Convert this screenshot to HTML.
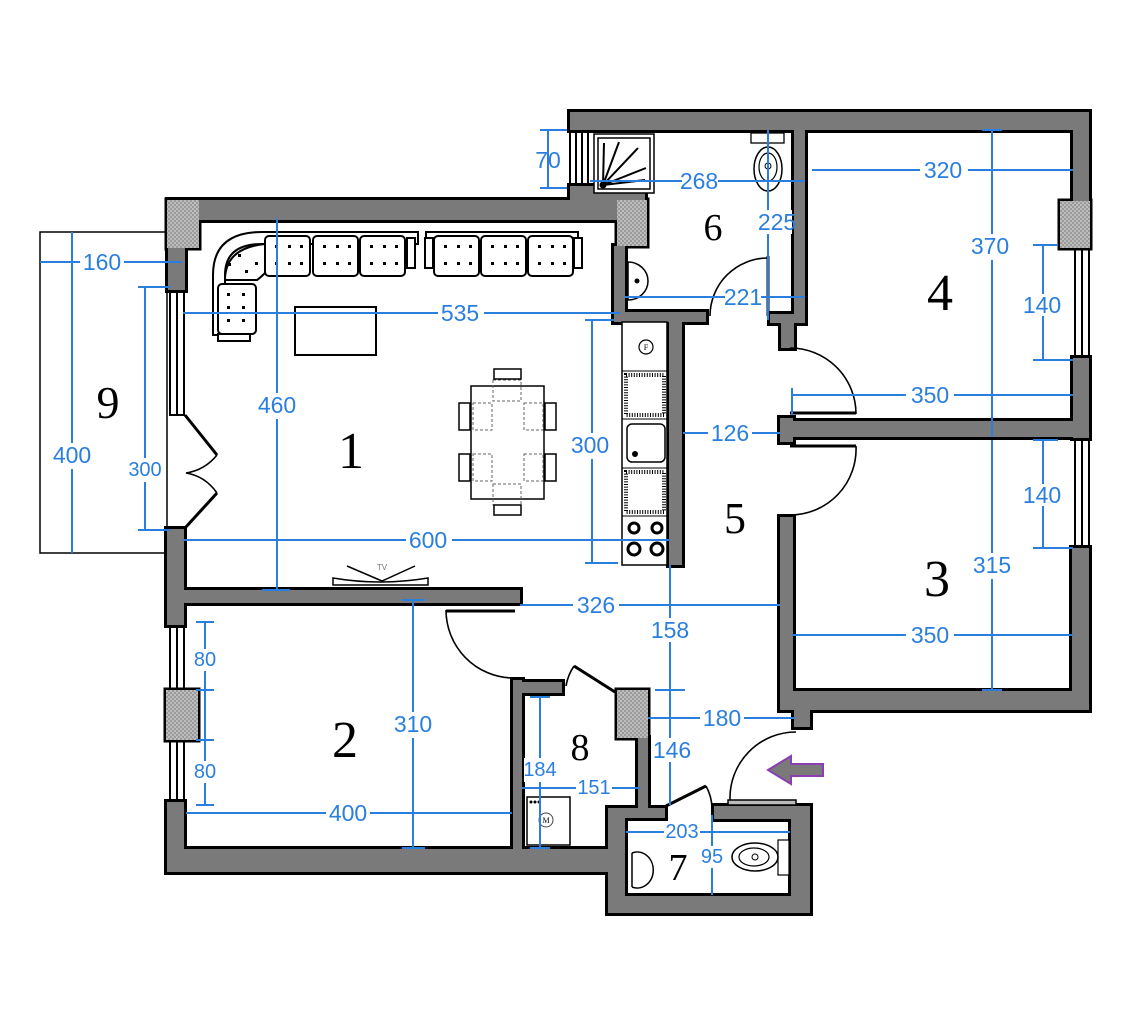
<!DOCTYPE html>
<html><head><meta charset="utf-8"><style>
html,body{margin:0;padding:0;background:#fff}
svg{display:block}
.w{fill:#7a7a7a;stroke:#000;stroke-width:6}
.t{fill:url(#tex);stroke:#000;stroke-width:5}
.nf .w,.nf .t{stroke:none}
.win{fill:#fff;stroke:#000;stroke-width:2}
.d{stroke:#2a7fde;stroke-width:2;fill:none}
.dt{font-family:"Liberation Sans Narrow","Liberation Sans",sans-serif;font-size:23px;fill:#2a7fde;text-anchor:middle;dominant-baseline:central}
.rl{font-family:"Liberation Serif",serif;fill:#000;text-anchor:middle}
.f{fill:#fff;stroke:#000;stroke-width:2}
.a{fill:none;stroke:#000;stroke-width:1.6}
</style></head><body>
<svg id="s" width="1129" height="1014" viewBox="0 0 1129 1014" xmlns="http://www.w3.org/2000/svg">
<defs>
<pattern id="tex" width="4" height="4" patternUnits="userSpaceOnUse"><rect width="4" height="4" fill="#9a9a9a"/><rect width="2" height="2" fill="#bdbdbd"/><rect x="2" y="2" width="2" height="2" fill="#bdbdbd"/></pattern>
</defs>

<rect x="40" y="232" width="127" height="321" fill="none" stroke="#000" stroke-width="1.5"/>

<!-- windows -->
<rect class="win" x="1075" y="248" width="14" height="110"/>
<line x1="1082" y1="248" x2="1082" y2="358" stroke="#000" stroke-width="2"/>
<rect class="win" x="1075" y="438" width="14" height="110"/>
<line x1="1082" y1="438" x2="1082" y2="548" stroke="#000" stroke-width="2"/>
<rect class="win" x="570" y="131" width="18" height="55"/>
<line x1="576" y1="131" x2="576" y2="186" stroke="#000" stroke-width="2"/>
<line x1="582" y1="131" x2="582" y2="186" stroke="#000" stroke-width="2"/>
<rect class="win" x="170" y="290" width="14" height="125"/>
<line x1="177" y1="290" x2="177" y2="415" stroke="#000" stroke-width="2"/>
<rect class="win" x="170" y="625" width="14" height="65"/>
<line x1="177" y1="625" x2="177" y2="690" stroke="#000" stroke-width="2"/>
<rect class="win" x="170" y="740" width="14" height="62"/>
<line x1="177" y1="740" x2="177" y2="802" stroke="#000" stroke-width="2"/>

<g id="walls">
<rect class="w" x="570" y="112" width="519" height="18"/>
<rect class="w" x="1073" y="112" width="16" height="90"/>
<rect class="t" x="1060" y="201" width="30" height="47"/>
<rect class="w" x="1073" y="358" width="16" height="80"/>
<rect class="w" x="1072" y="548" width="17" height="162"/>
<rect class="w" x="780" y="691" width="309" height="19"/>
<rect class="w" x="780" y="517" width="13" height="190"/>
<rect class="w" x="794" y="705" width="16" height="22"/>
<rect class="w" x="780" y="421" width="309" height="16"/>
<rect class="w" x="780" y="418" width="13" height="24"/>
<rect class="w" x="794" y="130" width="11" height="193"/>
<rect class="w" x="770" y="314" width="30" height="9"/>
<rect class="w" x="781" y="318" width="13" height="30"/>
<rect class="w" x="570" y="186" width="75" height="14"/>
<rect class="w" x="168" y="200" width="450" height="20"/>
<rect class="t" x="617" y="200" width="30" height="46"/>
<rect class="w" x="614" y="246" width="11" height="76"/>
<rect class="w" x="614" y="312" width="92" height="10"/>
<rect class="w" x="669" y="320" width="13" height="245"/>
<rect class="t" x="167" y="200" width="32" height="48"/>
<rect class="w" x="168" y="248" width="17" height="42"/>
<rect class="w" x="167" y="529" width="17" height="96"/>
<rect class="w" x="184" y="590" width="336" height="13"/>
<rect class="t" x="166" y="690" width="32" height="50"/>
<rect class="w" x="167" y="802" width="17" height="70"/>
<rect class="w" x="184" y="849" width="440" height="23"/>
<rect class="w" x="513" y="680" width="9" height="170"/>
<rect class="w" x="522" y="682" width="40" height="11"/>
<rect class="t" x="617" y="690" width="31" height="48"/>
<rect class="w" x="638" y="738" width="10" height="72"/>
<rect class="w" x="608" y="808" width="17" height="105"/>
<rect class="w" x="625" y="808" width="40" height="10"/>
<rect class="w" x="714" y="806" width="96" height="13"/>
<rect class="w" x="791" y="819" width="19" height="94"/>
<rect class="w" x="625" y="896" width="166" height="17"/>
</g>

<rect x="728" y="800" width="68" height="5" fill="#bbb" stroke="#000" stroke-width="1.5"/>

<!-- doors -->
<path class="a" d="M768 258 A58 58 0 0 0 710 316"/><line x1="768" y1="256" x2="768" y2="316" stroke="#000" stroke-width="3"/>
<path class="a" d="M790 348 A66 66 0 0 1 856 414"/><line x1="790" y1="413" x2="856" y2="413" stroke="#000" stroke-width="3"/>
<path class="a" d="M790 515 A66 66 0 0 0 856 446"/><line x1="790" y1="446" x2="856" y2="446" stroke="#000" stroke-width="3"/>
<path class="a" d="M446 610 A68 68 0 0 0 512 678"/><line x1="446" y1="611" x2="515" y2="611" stroke="#000" stroke-width="3"/>
<path class="a" d="M566 686 A50 50 0 0 1 574 666"/><line x1="574" y1="666" x2="615" y2="692" stroke="#000" stroke-width="3"/>
<path class="a" d="M730 800 A66 66 0 0 1 796 732"/>
<path class="a" d="M712 808 A48 48 0 0 0 706 786"/><line x1="666" y1="806" x2="706" y2="786" stroke="#000" stroke-width="3"/>
<line x1="185" y1="415" x2="217" y2="455" stroke="#000" stroke-width="3"/>
<line x1="185" y1="528" x2="217" y2="493" stroke="#000" stroke-width="3"/>
<path class="a" d="M217 455 Q205 470 186 473 Q205 476 217 493"/>

<!-- sofa -->
<path class="f" d="M213 335 L213 275 Q213 232 262 232 L418 232 L418 244 L262 244 Q225 244 225 275 L225 335 Z"/>
<path class="f" d="M426 232 L578 232 L578 244 L426 244 Z"/>
<path class="f" d="M265 244 L265 273 Q260 278 257 280 L225 280 L225 280 Q225 248 265 244"/>
<rect class="f" x="265" y="236" width="45" height="40" rx="4"/>
<rect class="f" x="313" y="236" width="45" height="40" rx="4"/>
<rect class="f" x="360" y="236" width="45" height="40" rx="4"/>
<rect class="f" x="407" y="238" width="8" height="30"/>
<rect class="f" x="425" y="238" width="8" height="30"/>
<rect class="f" x="434" y="236" width="45" height="40" rx="4"/>
<rect class="f" x="481" y="236" width="45" height="40" rx="4"/>
<rect class="f" x="528" y="236" width="45" height="40" rx="4"/>
<rect class="f" x="574" y="238" width="8" height="30"/>
<rect class="f" x="218" y="284" width="38" height="50" rx="4"/>
<rect class="f" x="218" y="334" width="32" height="7"/>
<g fill="#000">
<rect x="275" y="245" width="3" height="3"/><rect x="288" y="245" width="3" height="3"/><rect x="300" y="245" width="3" height="3"/><rect x="275" y="262" width="3" height="3"/><rect x="288" y="262" width="3" height="3"/><rect x="300" y="262" width="3" height="3"/>
<rect x="323" y="245" width="3" height="3"/><rect x="336" y="245" width="3" height="3"/><rect x="348" y="245" width="3" height="3"/><rect x="323" y="262" width="3" height="3"/><rect x="336" y="262" width="3" height="3"/><rect x="348" y="262" width="3" height="3"/>
<rect x="370" y="245" width="3" height="3"/><rect x="383" y="245" width="3" height="3"/><rect x="395" y="245" width="3" height="3"/><rect x="370" y="262" width="3" height="3"/><rect x="383" y="262" width="3" height="3"/><rect x="395" y="262" width="3" height="3"/>
<rect x="444" y="245" width="3" height="3"/><rect x="457" y="245" width="3" height="3"/><rect x="469" y="245" width="3" height="3"/><rect x="444" y="262" width="3" height="3"/><rect x="457" y="262" width="3" height="3"/><rect x="469" y="262" width="3" height="3"/>
<rect x="491" y="245" width="3" height="3"/><rect x="504" y="245" width="3" height="3"/><rect x="516" y="245" width="3" height="3"/><rect x="491" y="262" width="3" height="3"/><rect x="504" y="262" width="3" height="3"/><rect x="516" y="262" width="3" height="3"/>
<rect x="538" y="245" width="3" height="3"/><rect x="551" y="245" width="3" height="3"/><rect x="563" y="245" width="3" height="3"/><rect x="538" y="262" width="3" height="3"/><rect x="551" y="262" width="3" height="3"/><rect x="563" y="262" width="3" height="3"/>
<rect x="227" y="293" width="3" height="3"/><rect x="242" y="293" width="3" height="3"/><rect x="227" y="306" width="3" height="3"/><rect x="242" y="306" width="3" height="3"/><rect x="227" y="319" width="3" height="3"/><rect x="242" y="319" width="3" height="3"/>
<rect x="238" y="254" width="3" height="3"/><rect x="228" y="263" width="3" height="3"/><rect x="245" y="270" width="3" height="3"/><rect x="255" y="262" width="3" height="3"/>
</g>
<rect class="f" x="295" y="307" width="81" height="48"/>
<rect x="471" y="386" width="73" height="113" fill="#fff" stroke="#000" stroke-width="1.5"/>
<g fill="none" stroke="#666" stroke-width="1" stroke-dasharray="3,2">
<rect x="493" y="380" width="28" height="21"/><rect x="493" y="484" width="28" height="21"/>
<rect x="473" y="403" width="19" height="27"/><rect x="473" y="454" width="19" height="27"/>
<rect x="524" y="403" width="19" height="27"/><rect x="524" y="454" width="19" height="27"/>
</g>
<g fill="#fff" stroke="#000" stroke-width="1.5">
<rect x="494" y="369" width="27" height="10"/><rect x="494" y="505" width="27" height="10"/>
<rect x="459" y="403" width="11" height="27"/><rect x="459" y="454" width="11" height="27"/>
<rect x="545" y="403" width="11" height="27"/><rect x="545" y="454" width="11" height="27"/>
</g>
<path d="M333 578 Q380 586 428 578 L428 585 L333 585 Z" fill="#fff" stroke="#000" stroke-width="1.5"/>
<path d="M347 566 L382 581 L415 566" fill="none" stroke="#000" stroke-width="1.5"/>
<text x="382" y="570" font-family="Liberation Sans,sans-serif" font-size="8" fill="#777" text-anchor="middle">TV</text>
<rect x="622" y="322" width="45" height="243" fill="#fff" stroke="#000" stroke-width="1.5"/>
<circle cx="646" cy="347" r="7" fill="#fff" stroke="#000" stroke-width="1.2"/>
<text x="646" y="350" font-family="Liberation Serif,serif" font-size="8" text-anchor="middle">F</text>
<line x1="622" y1="371" x2="667" y2="371" stroke="#000"/>
<rect x="626" y="375" width="38" height="40" fill="none" stroke="#000" stroke-width="4" stroke-dasharray="1,1.6"/>
<line x1="622" y1="419" x2="667" y2="419" stroke="#000"/>
<rect x="627" y="424" width="38" height="38" rx="5" fill="#fff" stroke="#000" stroke-width="1.5"/>
<circle cx="635" cy="454" r="3"/>
<line x1="622" y1="468" x2="667" y2="468" stroke="#000"/>
<rect x="626" y="472" width="38" height="40" fill="none" stroke="#000" stroke-width="4" stroke-dasharray="1,1.6"/>
<line x1="622" y1="516" x2="667" y2="516" stroke="#000"/>
<g fill="#fff" stroke="#000" stroke-width="3"><circle cx="634" cy="528" r="5"/><circle cx="657" cy="528" r="5"/><circle cx="634" cy="549" r="6"/><circle cx="657" cy="549" r="6"/></g>
<rect x="594" y="134" width="60" height="59" fill="#fff" stroke="#000" stroke-width="1.5"/>
<rect x="598" y="138" width="52" height="51" fill="#fff" stroke="#000" stroke-width="1.5"/>
<g stroke="#000" stroke-width="2"><line x1="603" y1="185" x2="604" y2="143"/><line x1="603" y1="185" x2="619" y2="142"/><line x1="603" y1="185" x2="638" y2="148"/><line x1="603" y1="185" x2="646" y2="168"/><line x1="603" y1="185" x2="645" y2="180"/></g>
<circle cx="603" cy="185" r="3.5"/>
<rect x="751" y="133" width="33" height="10" fill="#fff" stroke="#000" stroke-width="1.3"/>
<ellipse cx="768" cy="169" rx="14" ry="22" fill="#fff" stroke="#000" stroke-width="1.5"/>
<ellipse cx="768" cy="167" rx="9" ry="14" fill="#fff" stroke="#000" stroke-width="1.2"/>
<circle cx="768" cy="166" r="3" fill="none" stroke="#000"/>
<path d="M628 262 A20 19 0 1 1 628 300" fill="#fff" stroke="#000" stroke-width="1.5"/>
<line x1="628" y1="262" x2="628" y2="300" stroke="#000" stroke-width="1.5"/>
<circle cx="637" cy="281" r="2.5"/>
<rect x="527" y="797" width="43" height="48" fill="#fff" stroke="#000" stroke-width="1.5"/>
<circle cx="546" cy="820" r="7" fill="#fff" stroke="#444"/>
<text x="546" y="823" font-family="Liberation Serif,serif" font-size="8" text-anchor="middle">M</text>
<g fill="#000"><circle cx="531" cy="802" r="1.5"/><circle cx="535" cy="802" r="1.5"/><circle cx="539" cy="802" r="1.5"/></g>
<path d="M632 853 A16 18 0 1 1 632 887" fill="#fff" stroke="#000" stroke-width="1.5"/>
<line x1="632" y1="853" x2="632" y2="887" stroke="#000" stroke-width="1.5"/>
<rect x="778" y="840" width="11" height="35" fill="#fff" stroke="#000" stroke-width="1.2"/>
<ellipse cx="755" cy="857" rx="23" ry="14" fill="#fff" stroke="#000" stroke-width="1.5"/>
<ellipse cx="754" cy="857" rx="15" ry="9" fill="#fff" stroke="#000" stroke-width="1.2"/>
<circle cx="755" cy="857" r="3" fill="none" stroke="#000"/>
<polygon points="768,770 791,756 791,764 823,764 823,776 791,776 791,784" fill="#7a7a7a" stroke="#8a3fb0" stroke-width="2"/>

<g class="d">
<line x1="548" y1="130" x2="548" y2="188"/><line x1="540" y1="130" x2="567" y2="130"/><line x1="540" y1="188" x2="567" y2="188"/>
<line x1="590" y1="181" x2="805" y2="181"/>
<line x1="812" y1="170" x2="1073" y2="170"/>
<line x1="768" y1="130" x2="768" y2="320"/>
<line x1="625" y1="297" x2="805" y2="297"/>
<line x1="992" y1="130" x2="992" y2="437"/><line x1="982" y1="130" x2="1002" y2="130"/>
<line x1="1043" y1="245" x2="1043" y2="360"/><line x1="1033" y1="245" x2="1058" y2="245"/><line x1="1033" y1="360" x2="1073" y2="360"/>
<line x1="792" y1="395" x2="1073" y2="395"/><line x1="792" y1="388" x2="792" y2="415"/>
<line x1="683" y1="433" x2="780" y2="433"/>
<line x1="1043" y1="440" x2="1043" y2="548"/><line x1="1033" y1="440" x2="1058" y2="440"/><line x1="1033" y1="548" x2="1073" y2="548"/>
<line x1="992" y1="440" x2="992" y2="690"/><line x1="982" y1="690" x2="1002" y2="690"/>
<line x1="792" y1="635" x2="1073" y2="635"/>
<line x1="40" y1="262" x2="182" y2="262"/>
<line x1="72" y1="232" x2="72" y2="553"/>
<line x1="145" y1="287" x2="145" y2="530"/><line x1="138" y1="287" x2="170" y2="287"/><line x1="138" y1="530" x2="170" y2="530"/>
<line x1="277" y1="218" x2="277" y2="590"/><line x1="262" y1="590" x2="290" y2="590"/>
<line x1="183" y1="313" x2="620" y2="313"/>
<line x1="592" y1="320" x2="592" y2="563"/><line x1="585" y1="320" x2="614" y2="320"/><line x1="585" y1="563" x2="618" y2="563"/>
<line x1="183" y1="540" x2="670" y2="540"/>
<line x1="520" y1="605" x2="780" y2="605"/>
<line x1="670" y1="565" x2="670" y2="805"/><line x1="655" y1="690" x2="685" y2="690"/>
<line x1="648" y1="718" x2="795" y2="718"/>
<line x1="413" y1="600" x2="413" y2="848"/><line x1="402" y1="600" x2="425" y2="600"/><line x1="402" y1="848" x2="425" y2="848"/>
<line x1="205" y1="622" x2="205" y2="805"/><line x1="196" y1="622" x2="214" y2="622"/><line x1="196" y1="690" x2="214" y2="690"/><line x1="196" y1="740" x2="214" y2="740"/><line x1="196" y1="805" x2="214" y2="805"/>
<line x1="186" y1="813" x2="512" y2="813"/>
<line x1="540" y1="697" x2="540" y2="848"/><line x1="530" y1="697" x2="550" y2="697"/><line x1="530" y1="848" x2="550" y2="848"/>
<line x1="522" y1="788" x2="640" y2="788"/>
<line x1="626" y1="832" x2="790" y2="832"/>
<line x1="712" y1="815" x2="712" y2="895"/>
</g>
<g class="dt">
<text x="548" y="160">70</text>
<rect x="682" y="170" width="36" height="22" fill="#fff"/><text x="699" y="181">268</text>
<rect x="920" y="158" width="48" height="24" fill="#fff"/><text x="943" y="170">320</text>
<rect x="758" y="210" width="34" height="24" fill="#fff"/><text x="777" y="222">225</text>
<rect x="725" y="286" width="36" height="22" fill="#fff"/><text x="743" y="297">221</text>
<rect x="970" y="234" width="44" height="26" fill="#fff"/><text x="990" y="246">370</text>
<rect x="1025" y="294" width="36" height="22" fill="#fff"/><text x="1042" y="305">140</text>
<rect x="906" y="383" width="48" height="24" fill="#fff"/><text x="930" y="395">350</text>
<rect x="708" y="421" width="44" height="24" fill="#fff"/><text x="730" y="433">126</text>
<rect x="1025" y="484" width="36" height="22" fill="#fff"/><text x="1042" y="495">140</text>
<rect x="970" y="553" width="44" height="26" fill="#fff"/><text x="992" y="565">315</text>
<rect x="906" y="623" width="48" height="24" fill="#fff"/><text x="930" y="635">350</text>
<rect x="80" y="250" width="44" height="24" fill="#fff"/><text x="102" y="262">160</text>
<rect x="50" y="443" width="44" height="26" fill="#fff"/><text x="72" y="455">400</text>
<rect x="128" y="458" width="34" height="24" fill="#fff"/><text x="145" y="470" style="font-size:20px">300</text>
<rect x="255" y="393" width="44" height="26" fill="#fff"/><text x="277" y="405">460</text>
<rect x="438" y="301" width="46" height="24" fill="#fff"/><text x="460" y="313">535</text>
<rect x="568" y="433" width="46" height="26" fill="#fff"/><text x="590" y="445">300</text>
<rect x="406" y="528" width="46" height="24" fill="#fff"/><text x="428" y="540">600</text>
<rect x="573" y="593" width="46" height="24" fill="#fff"/><text x="596" y="605">326</text>
<rect x="652" y="618" width="36" height="24" fill="#fff"/><text x="670" y="630">158</text>
<rect x="700" y="706" width="44" height="24" fill="#fff"/><text x="722" y="718">180</text>
<rect x="654" y="738" width="36" height="24" fill="#fff"/><text x="672" y="750">146</text>
<rect x="391" y="712" width="44" height="26" fill="#fff"/><text x="413" y="724">310</text>
<rect x="193" y="649" width="24" height="22" fill="#fff"/><text x="205" y="660" style="font-size:20px">80</text>
<rect x="193" y="761" width="24" height="22" fill="#fff"/><text x="205" y="772" style="font-size:20px">80</text>
<rect x="326" y="801" width="44" height="24" fill="#fff"/><text x="348" y="813">400</text>
<rect x="524" y="758" width="34" height="24" fill="#fff"/><text x="540" y="770" style="font-size:20px">184</text>
<rect x="576" y="777" width="36" height="22" fill="#fff"/><text x="594" y="788" style="font-size:20px">151</text>
<rect x="664" y="821" width="36" height="22" fill="#fff"/><text x="682" y="832" style="font-size:20px">203</text>
<rect x="701" y="846" width="24" height="22" fill="#fff"/><text x="712" y="857" style="font-size:20px">95</text>
</g>

<text class="rl" x="351" y="468" font-size="52">1</text>
<text class="rl" x="345" y="757" font-size="52">2</text>
<text class="rl" x="937" y="596" font-size="52">3</text>
<text class="rl" x="940" y="310" font-size="52">4</text>
<text class="rl" x="735" y="533" font-size="44">5</text>
<text class="rl" x="713" y="240" font-size="38">6</text>
<text class="rl" x="678" y="880" font-size="38">7</text>
<text class="rl" x="580" y="760" font-size="38">8</text>
<text class="rl" x="108" y="418" font-size="46">9</text>
</svg>
<script>
(function(){var g=document.getElementById('walls');var c=g.cloneNode(true);c.removeAttribute('id');c.setAttribute('class','nf');g.parentNode.insertBefore(c,g.nextSibling);})();
</script>
</body></html>
